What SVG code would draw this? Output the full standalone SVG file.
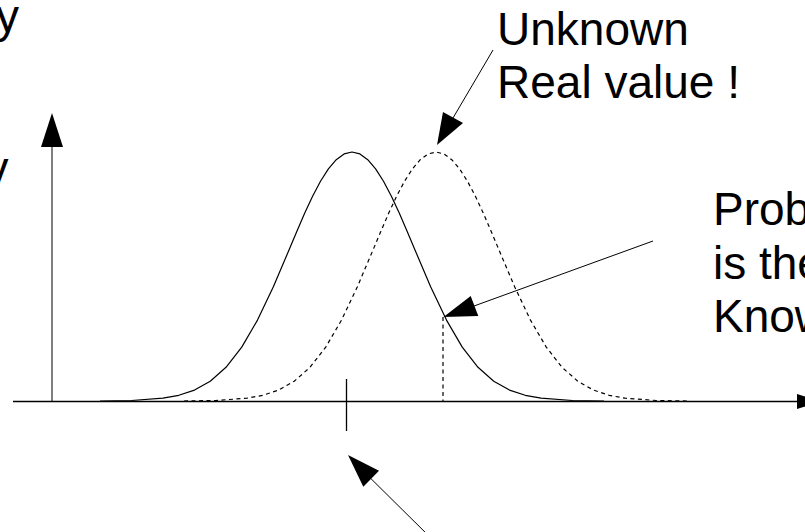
<svg xmlns="http://www.w3.org/2000/svg" width="805" height="532" viewBox="0 0 805 532">
<style>
.lbl{font-family:"Liberation Sans",Arial,sans-serif;font-size:46px;fill:#000}
.ln{stroke:#000;stroke-width:1.2;fill:none}
.dash{stroke:#000;stroke-width:1.2;fill:none;stroke-dasharray:4 3.5}
.head{fill:#000;stroke:none}
</style>
<rect width="805" height="532" fill="#fff"/>
<g id="text-left">
<text class="lbl" x="19" y="32" text-anchor="end">y</text>
<text class="lbl" x="8.5" y="184" text-anchor="end">y</text>
</g>
<g id="axes">
<line x1="52" y1="146" x2="52" y2="402" stroke="#000" stroke-width="1"/>
<polygon class="head" points="52,113 41,147 63,147"/>
<line x1="13" y1="401.5" x2="798" y2="401.5" stroke="#000" stroke-width="1.5"/>
<polygon class="head" points="797,394 820,401.5 797,409"/>
<line x1="346.5" y1="379" x2="346.5" y2="431" stroke="#000" stroke-width="1.3"/>
</g>
<g id="measured-curve">
<polyline class="ln" points="100,401 131.5,400.5 163,398.2 178.75,395.3 194.5,390.1 210.25,381.2 226,367.3 241.75,347.1 257.5,320.1 273.25,287 289,250 296.9,231.2 304.75,213.1 312.6,196.2 320.5,181.3 328.4,168.9 336.25,159.7 344.1,153.9 352,152 359.9,153.9 367.75,159.7 375.6,168.9 383.5,181.3 391.4,196.2 399.25,213.1 407.1,231.2 415,250 430.75,287 446.5,320.1 462.25,347.1 478,367.3 493.75,381.2 509.5,390.1 525.25,395.3 541,398.2 572.5,400.5 604,401" stroke-linejoin="round"/>
</g>
<g id="real-curve">
<polyline class="dash" points="184,401 215.5,400.5 247,398.2 262.75,395.3 278.5,390.1 294.25,381.2 310,367.3 325.75,347.1 341.5,320.1 357.25,287 373,250 380.9,231.2 388.75,213.1 396.6,196.2 404.5,181.3 412.4,168.9 420.25,159.7 428.1,153.9 436,152 443.9,153.9 451.75,159.7 459.6,168.9 467.5,181.3 475.4,196.2 483.25,213.1 491.1,231.2 499,250 514.75,287 530.5,320.1 546.25,347.1 562,367.3 577.75,381.2 593.5,390.1 609.25,395.3 625,398.2 656.5,400.5 688,401"/>
<line class="dash" x1="443" y1="317" x2="443" y2="401"/>
</g>
<g id="label-unknown">
<text class="lbl" x="497" y="45">Unknown</text>
<text class="lbl" x="497" y="98">Real value !</text>
</g>
<g id="label-prob">
<text class="lbl" x="713" y="225">Prob</text>
<text class="lbl" x="713" y="279">is the</text>
<text class="lbl" x="713" y="332">Know</text>
</g>
<g id="connectors">
<line x1="493" y1="50" x2="453" y2="118" stroke="#000" stroke-width="1"/>
<polygon class="head" points="437,145 443,112 463,123"/>
<line x1="653" y1="241" x2="474" y2="306" stroke="#000" stroke-width="1"/>
<polygon class="head" points="443.5,317 470.7,296 478.3,316"/>
<line x1="433" y1="540" x2="371" y2="478.7" stroke="#000" stroke-width="1"/>
<polygon class="head" points="348,455 379,470.7 363.3,486.7"/>
</g>
</svg>
